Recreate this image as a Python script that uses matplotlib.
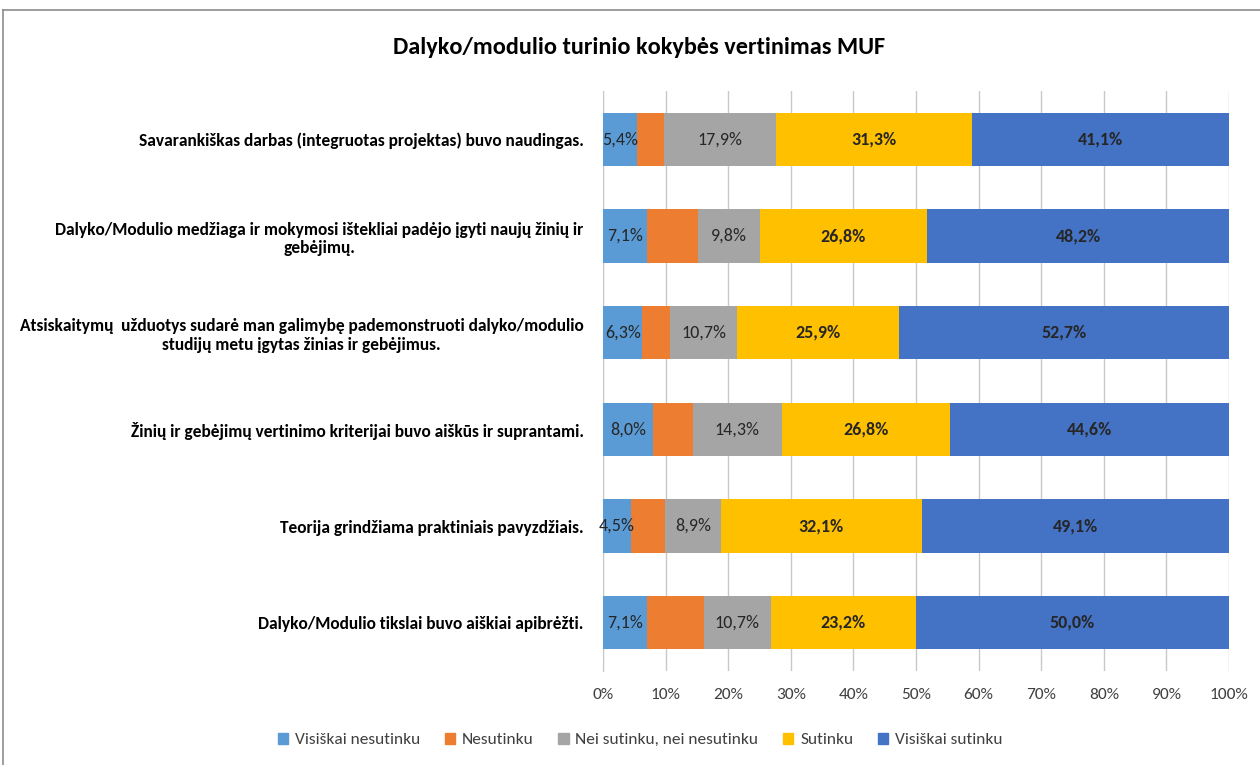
import matplotlib
matplotlib.use("Agg")
import matplotlib.pyplot as plt
import numpy as np
from matplotlib.lines import Line2D

plt.rcParams['font.family'] = ['Carlito', 'DejaVu Sans']

categories = [
    "Savarankiškas darbas (integruotas projektas) buvo naudingas.",
    "Dalyko/Modulio medžiaga ir mokymosi ištekliai padėjo įgyti naujų žinių ir\ngebėjimų.",
    "Atsiskaitymų  užduotys sudarė man galimybę pademonstruoti dalyko/modulio\nstudijų metu įgytas žinias ir gebėjimus.",
    "Žinių ir gebėjimų vertinimo kriterijai buvo aiškūs ir suprantami.",
    "Teorija grindžiama praktiniais pavyzdžiais.",
    "Dalyko/Modulio tikslai buvo aiškiai apibrėžti.",
]
series_names = ["Visiškai nesutinku", "Nesutinku", "Nei sutinku, nei nesutinku",
                "Sutinku", "Visiškai sutinku"]
visiskai_nesutinku = [5.4, 7.1, 6.3, 8.0, 4.5, 7.1]
nesutinku = [4.3, 8.1, 4.4, 6.3, 5.4, 9.0]
nei_nei = [17.9, 9.8, 10.7, 14.3, 8.9, 10.7]
sutinku = [31.3, 26.8, 25.9, 26.8, 32.1, 23.2]
visiskai_sutinku = [41.1, 48.2, 52.7, 44.6, 49.1, 50.0]

colors = ["#5B9BD5", "#ED7D31", "#A5A5A5", "#FFC000", "#4472C4"]
show_label = [True, False, True, True, True]
bold_label = [False, False, False, True, True]

fig = plt.figure(figsize=(12.6, 7.65), dpi=100)
ax = fig.add_axes([603 / 1260, 1 - 671 / 765, 626 / 1260, 580 / 765])

data = [visiskai_nesutinku, nesutinku, nei_nei, sutinku, visiskai_sutinku]
y = np.arange(len(categories))
left = np.zeros(len(categories))
for vals, name, col, show, bold in zip(data, series_names, colors, show_label, bold_label):
    vals = np.array(vals)
    ax.barh(y, vals, left=left, height=0.55, color=col, label=name, zorder=3)
    if show:
        for yi, l, v in zip(y, left, vals):
            ax.text(l + v / 2, yi, f"{v:.1f}%".replace(".", ","), ha="center", va="center",
                    fontsize=13, fontweight="bold" if bold else "normal",
                    color="#262626", zorder=4)
    left += vals

ax.set_xlim(0, 100)
ax.set_ylim(len(categories) - 0.5, -0.5)
ax.set_xticks(np.arange(0, 101, 10))
ax.set_xticklabels([f"{t}%" for t in range(0, 101, 10)], fontsize=12.5, color="#404040")
ax.tick_params(axis="x", length=0, pad=12)
ax.tick_params(axis="y", length=0, pad=14)
ax.set_yticks(y)
ax.set_yticklabels(categories, fontsize=12.5, fontweight="bold", multialignment="center")
ax.grid(axis="x", color="#C8C8C8", linewidth=1, zorder=0)
for s in ["top", "right", "bottom"]:
    ax.spines[s].set_visible(False)
ax.spines["left"].set_color("#C8C8C8")

fig.text(0.507, 1 - 47 / 765, "Dalyko/modulio turinio kokybės vertinimas MUF",
         ha="center", va="center", fontsize=17.5, fontweight="bold")

handles = [plt.Rectangle((0, 0), 1, 1, color=c) for c in colors]
fig.legend(handles, series_names, loc="center", bbox_to_anchor=(0.508, 1 - 740 / 765),
           ncol=5, frameon=False, fontsize=12.5, handlelength=0.6, handleheight=0.6,
           handletextpad=0.4, columnspacing=1.4, labelcolor="#404040")

fig.add_artist(Line2D([3 / 1260, 1], [1 - 10 / 765, 1 - 10 / 765], transform=fig.transFigure,
                      color="#8C8C8C", linewidth=1.2))
fig.add_artist(Line2D([3 / 1260, 3 / 1260], [0, 1 - 10 / 765], transform=fig.transFigure,
                      color="#8C8C8C", linewidth=1.2))

fig.savefig("out.png", dpi=100)
